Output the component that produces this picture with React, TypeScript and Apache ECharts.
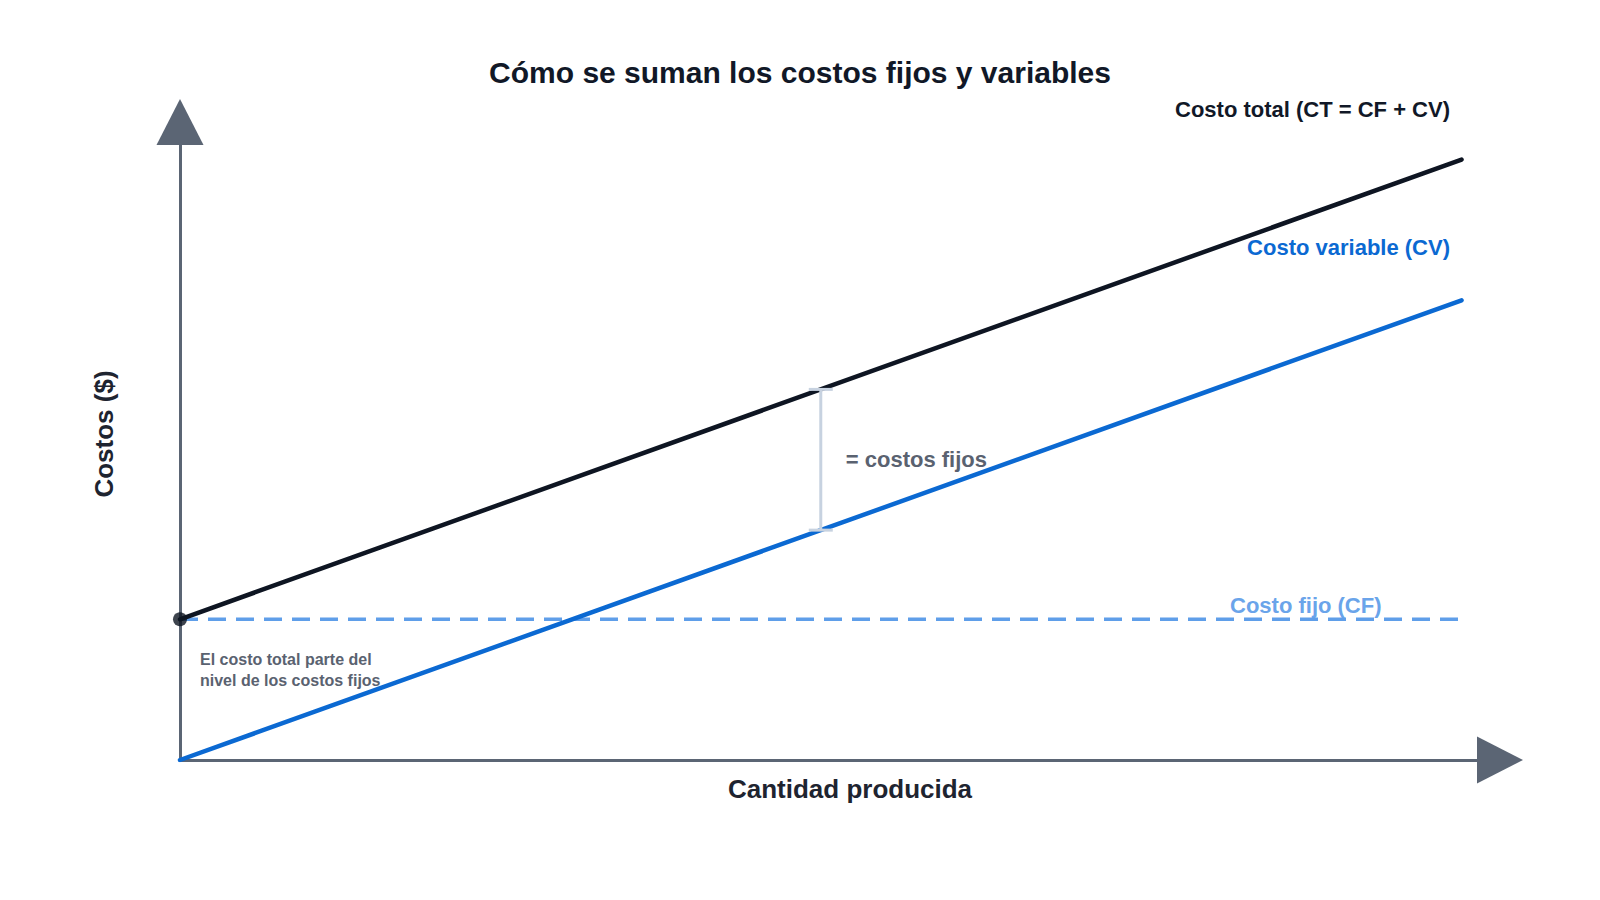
import React, { useEffect, useRef } from 'react';
import * as echarts from 'echarts';

// cantidad producida (eje x) y costos
const quantity = [0, 10];
const fixedCost = [30, 30];
const variableCost = [0, 98];
const totalCost = [30, 128];
// corchete entre CT y CV en q = 5
const bracket = [[5, 49, 79]];

const FONT = 'Liberation Sans, Arial, sans-serif';
const AXIS_COLOR = '#5b6574';

const App: React.FC = () => {
  const chartRef = useRef<HTMLDivElement>(null);

  useEffect(() => {
    if (!chartRef.current) return;
    const chart = echarts.init(chartRef.current, undefined, { renderer: 'svg' });

    const toPairs = (ys: number[]) => quantity.map((q, i) => [q, ys[i]]);

    const axisCommon = {
      type: 'value' as const,
      min: 0,
      axisLine: {
        show: true,
        symbol: ['none', 'triangle'],
        symbolSize: [47, 46],
        lineStyle: { color: AXIS_COLOR, width: 3 }
      },
      axisTick: { show: false },
      axisLabel: { show: false },
      splitLine: { show: false },
      nameLocation: 'middle' as const,
      nameTextStyle: { fontFamily: FONT, fontSize: 26, fontWeight: 'bold', color: '#1e2430' }
    };

    const option: echarts.EChartsOption = {
      animation: false,
      backgroundColor: '#ffffff',
      title: {
        text: 'Cómo se suman los costos fijos y variables',
        left: 795,
        top: 52,
        textAlign: 'center',
        textStyle: { fontFamily: FONT, fontSize: 30, fontWeight: 'bold', color: '#111827' }
      },
      grid: { left: 180, right: 100, top: 122, bottom: 140 },
      xAxis: {
        ...axisCommon,
        max: 10.3,
        name: 'Cantidad producida',
        nameGap: 16,
        nameTextStyle: { ...axisCommon.nameTextStyle, padding: [0, 0, 0, 20] }
      },
      yAxis: {
        ...axisCommon,
        max: 136,
        name: 'Costos ($)',
        nameGap: 63,
        nameTextStyle: { ...axisCommon.nameTextStyle, padding: [0, 0, 0, 14] }
      },
      series: [
        {
          name: 'Costo fijo (CF)',
          type: 'line',
          data: toPairs(fixedCost),
          showSymbol: false,
          lineStyle: { color: '#5f9ee9', width: 3.5, type: [18, 10] },
          z: 2
        },
        {
          name: 'Costo variable (CV)',
          type: 'line',
          data: toPairs(variableCost),
          showSymbol: false,
          lineStyle: { color: '#0b69d2', width: 4.5, cap: 'round' },
          z: 3
        },
        {
          name: 'Costo total (CT)',
          type: 'line',
          data: toPairs(totalCost),
          showSymbol: false,
          lineStyle: { color: '#0e1522', width: 4.5, cap: 'round' },
          z: 4
        },
        {
          type: 'scatter',
          data: [[quantity[0], totalCost[0]]],
          symbolSize: 14,
          itemStyle: { color: '#0e1522' },
          z: 5
        },
        {
          type: 'custom',
          data: bracket,
          z: 6,
          renderItem: (params: any, api: any) => {
            const x = api.value(0);
            const lo = api.coord([x, api.value(1)]);
            const hi = api.coord([x, api.value(2)]);
            const mid = api.coord([x, (api.value(1) + api.value(2)) / 2]);
            const stroke = { stroke: '#c7d2e0', lineWidth: 3 };
            return {
              type: 'group',
              children: [
                { type: 'line', shape: { x1: lo[0], y1: lo[1], x2: hi[0], y2: hi[1] }, style: stroke },
                { type: 'line', shape: { x1: lo[0] - 12, y1: lo[1], x2: lo[0] + 12, y2: lo[1] }, style: stroke },
                { type: 'line', shape: { x1: hi[0] - 12, y1: hi[1], x2: hi[0] + 12, y2: hi[1] }, style: stroke },
                {
                  type: 'text',
                  x: mid[0] + 25,
                  y: mid[1],
                  style: {
                    text: '= costos fijos',
                    fontFamily: FONT,
                    fontSize: 22,
                    fontWeight: 'bold',
                    fill: '#5a6270',
                    align: 'left',
                    verticalAlign: 'middle'
                  }
                }
              ]
            };
          }
        }
      ],
      graphic: [
        {
          type: 'text',
          right: 150,
          top: 98,
          style: {
            text: 'Costo total (CT = CF + CV)',
            fontFamily: FONT,
            fontSize: 22,
            fontWeight: 'bold',
            fill: '#111827'
          }
        },
        {
          type: 'text',
          right: 150,
          top: 236,
          style: {
            text: 'Costo variable (CV)',
            fontFamily: FONT,
            fontSize: 22,
            fontWeight: 'bold',
            fill: '#0b69d2'
          }
        },
        {
          type: 'text',
          left: 1230,
          top: 594,
          style: {
            text: 'Costo fijo (CF)',
            fontFamily: FONT,
            fontSize: 22,
            fontWeight: 'bold',
            fill: '#6aa4ea'
          }
        },
        {
          type: 'text',
          left: 200,
          top: 649,
          style: {
            text: 'El costo total parte del\nnivel de los costos fijos',
            fontFamily: FONT,
            fontSize: 16,
            fontWeight: 'bold',
            lineHeight: 21,
            fill: '#5a6270'
          }
        }
      ]
    };

    chart.setOption(option);
    return () => chart.dispose();
  }, []);

  return (
    <div
      ref={chartRef}
      style={{ position: 'absolute', left: 0, top: 0, width: 1600, height: 900 }}
    />
  );
};

export default App;
